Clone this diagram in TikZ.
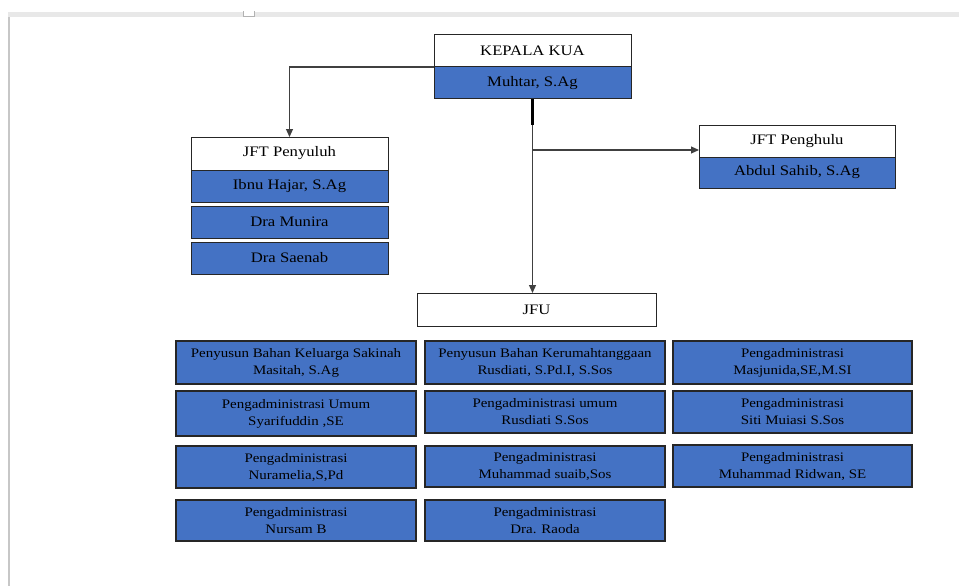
\documentclass[tikz,border=0pt]{standalone}
\usepackage{fontspec}
\setmainfont[FakeStretch=1.15]{Liberation Serif}
\usetikzlibrary{arrows.meta,calc}
\definecolor{boxblue}{HTML}{4472C4}
\begin{document}
\begin{tikzpicture}[x=1pt,y=-1pt,
  base/.style={draw=black!85, line width=1pt, inner sep=0pt, outer sep=0pt, anchor=north west, text=black},
  whitebox/.style={base, fill=white, font=\fontsize{14.5}{18}\selectfont},
  bluebox/.style={base, fill=boxblue, font=\fontsize{14.5}{18}\selectfont},
  gridbox/.style={base, fill=boxblue, draw=black!85, line width=1.1pt, font=\fontsize{13}{17}\selectfont, align=center},
  conn/.style={draw=black!75, line width=1.2pt},
  tip/.style={-{Triangle[length=8pt,width=7pt]}}
]
\useasboundingbox (0,0) rectangle (959,586);
\fill[white] (0,0) rectangle (959,586);
% page decoration
\fill[black!9] (8,12) rectangle (959,17);
\fill[black!22] (8,17) rectangle (9.5,586);
\fill[white] (243,12) rectangle (254,16);
\draw[black!30, line width=0.8pt] (243,11.5) -- (243,16) -- (254,16) -- (254,11.5);

% top
\node[whitebox, minimum width=197pt, minimum height=32pt] (kepala) at (434,35) {KEPALA KUA};
\node[bluebox, minimum width=197pt, minimum height=32pt] (muhtar) at (434,67) {Muhtar, S.Ag};

% penyuluh
\node[whitebox, minimum width=197pt, minimum height=33pt] (penyuluh) at (191,137) {JFT Penyuluh};
\node[bluebox, minimum width=197pt, minimum height=32pt] (ibnu) at (191,170) {Ibnu Hajar, S.Ag};
\node[bluebox, minimum width=197pt, minimum height=32pt] (munira) at (191,206) {Dra Munira};
\node[bluebox, minimum width=197pt, minimum height=32pt] (saenab) at (191,242) {Dra Saenab};

% penghulu
\node[whitebox, minimum width=196pt, minimum height=32pt] (penghulu) at (699,125) {JFT Penghulu};
\node[bluebox, minimum width=196pt, minimum height=31pt] (abdul) at (699,157) {Abdul Sahib, S.Ag};

% JFU
\node[whitebox, minimum width=239pt, minimum height=33pt] (jfu) at (417,293) {JFU};

% grid
\node[gridbox, minimum width=240pt, minimum height=43pt] (g11) at (176,341) {Penyusun Bahan Keluarga Sakinah\\Masitah, S.Ag};
\node[gridbox, minimum width=240pt, minimum height=45pt] (g21) at (176,391) {Pengadministrasi Umum\\Syarifuddin ,SE};
\node[gridbox, minimum width=240pt, minimum height=42pt] (g31) at (176,446) {Pengadministrasi\\Nuramelia,S,Pd};
\node[gridbox, minimum width=240pt, minimum height=41pt] (g41) at (176,500) {Pengadministrasi\\Nursam B};

\node[gridbox, minimum width=240pt, minimum height=43pt] (g12) at (425,341) {Penyusun Bahan Kerumahtanggaan\\Rusdiati, S.Pd.I, S.Sos};
\node[gridbox, minimum width=240pt, minimum height=42pt] (g22) at (425,391) {Pengadministrasi umum\\Rusdiati S.Sos};
\node[gridbox, minimum width=240pt, minimum height=41pt] (g32) at (425,446) {Pengadministrasi\\Muhammad suaib,Sos};
\node[gridbox, minimum width=240pt, minimum height=41pt] (g42) at (425,500) {Pengadministrasi\\Dra. Raoda};

\node[gridbox, minimum width=239pt, minimum height=43pt] (g13) at (673,341) {Pengadministrasi\\Masjunida,SE,M.SI};
\node[gridbox, minimum width=239pt, minimum height=42pt] (g23) at (673,391) {Pengadministrasi\\Siti Muiasi S.Sos};
\node[gridbox, minimum width=239pt, minimum height=42pt] (g33) at (673,445) {Pengadministrasi\\Muhammad Ridwan, SE};

% connectors
\coordinate (branch) at ($(muhtar.south)+(0,51)$);
\draw[conn,tip] (muhtar.north west) -| (penyuluh.north);
\draw[conn,tip] (muhtar.south) -- (muhtar.south |- jfu.north);
\draw[conn,tip] (branch) -- (branch -| penghulu.west);
\draw[black, line width=2.4pt] (muhtar.south) -- ++(0,26);
\end{tikzpicture}
\end{document}
